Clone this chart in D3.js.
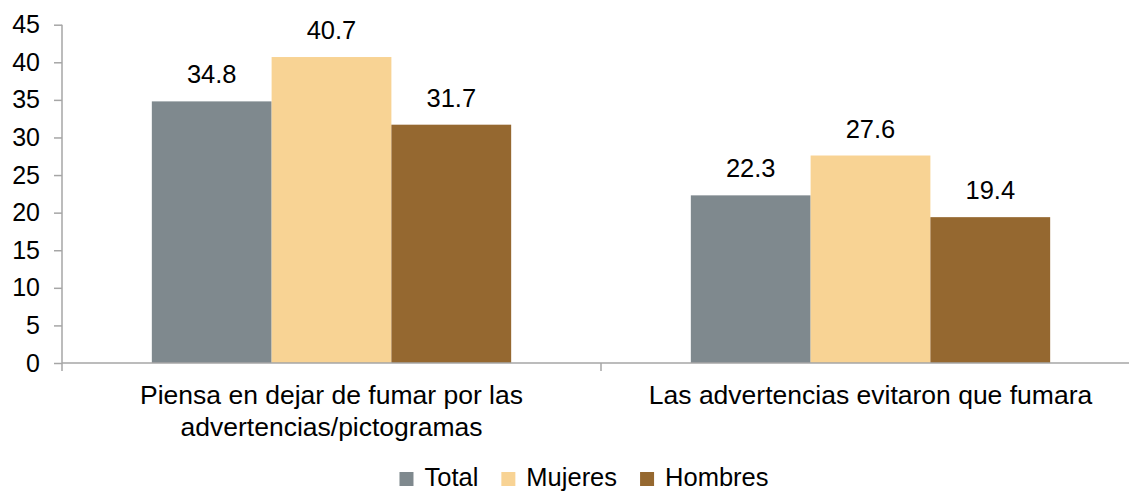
<!DOCTYPE html>
<html>
<head>
<meta charset="utf-8">
<script src="https://cdn.jsdelivr.net/npm/d3@7"></script>
<style>
  body { margin: 0; background: #fff; }
  text { font-family: "Liberation Sans", Arial, sans-serif; fill: #000; }
</style>
</head>
<body>
<svg id="chart" width="1129" height="493"></svg>
<script>
"use strict"

// data
const categories = [
    ["Piensa en dejar de fumar por las", "advertencias/pictogramas"],
    ["Las advertencias evitaron que fumara"]
];
const series = ["Total", "Mujeres", "Hombres"];
const totalValues = [34.8, 22.3];
const mujeresValues = [40.7, 27.6];
const hombresValues = [31.7, 19.4];
const yTicks = [0, 5, 10, 15, 20, 25, 30, 35, 40, 45];

const colors = { Total: "#7f898e", Mujeres: "#f8d394", Hombres: "#956830" };
const axisColor = "#a6a6a6";

const svg = d3.select("#chart");

const rows = categories.map((c, i) => ({
    key: i,
    label: c,
    values: [
        { s: "Total", v: totalValues[i] },
        { s: "Mujeres", v: mujeresValues[i] },
        { s: "Hombres", v: hombresValues[i] }
    ]
}));

const plotLeft = 62, plotRight = 1140, plotTop = 24.7, plotBottom = 363;

const x0 = d3.scaleBand().domain(rows.map(d => d.key)).range([plotLeft, plotRight]).padding(0);
const x1 = d3.scaleBand().domain(series).range([0, x0.bandwidth()]).paddingInner(0).paddingOuter(0.75);
const y = d3.scaleLinear().domain([0, 45]).range([plotBottom, plotTop]);

// y axis
const yAxis = svg.append("g")
    .attr("transform", `translate(${plotLeft},0)`)
    .call(d3.axisLeft(y).tickValues(yTicks).tickSize(8).tickPadding(14));
yAxis.select(".domain").remove();
yAxis.selectAll(".tick line").attr("stroke", axisColor).attr("stroke-width", 1.5);
yAxis.selectAll(".tick text").style("font-size", "25px").attr("fill", "#000");
svg.append("line")
    .attr("x1", plotLeft).attr("x2", plotLeft)
    .attr("y1", plotTop).attr("y2", plotBottom + 8)
    .attr("stroke", axisColor).attr("stroke-width", 1.5);

// bars
const groups = svg.selectAll(".grp")
    .data(rows)
    .enter().append("g")
    .attr("class", "grp")
    .attr("transform", d => `translate(${x0(d.key)},0)`);

groups.selectAll("rect")
    .data(d => d.values)
    .enter().append("rect")
    .attr("x", d => x1(d.s))
    .attr("width", x1.bandwidth())
    .attr("y", d => y(d.v))
    .attr("height", d => y(0) - y(d.v))
    .attr("fill", d => colors[d.s]);

groups.selectAll(".val")
    .data(d => d.values)
    .enter().append("text")
    .attr("class", "val")
    .attr("x", d => x1(d.s) + x1.bandwidth() / 2)
    .attr("y", d => y(d.v) - 18)
    .attr("text-anchor", "middle")
    .style("font-size", "25.5px")
    .text(d => d.v.toFixed(1));

// x axis
svg.append("line")
    .attr("x1", plotLeft).attr("x2", plotRight)
    .attr("y1", plotBottom).attr("y2", plotBottom)
    .attr("stroke", axisColor).attr("stroke-width", 1.5);
[plotLeft + x0.bandwidth(), plotRight].forEach(xx => {
    svg.append("line")
        .attr("x1", xx).attr("x2", xx)
        .attr("y1", plotBottom).attr("y2", plotBottom + 8)
        .attr("stroke", axisColor).attr("stroke-width", 1.5);
});

// category labels
groups.each(function(d) {
    const t = d3.select(this).append("text")
        .attr("text-anchor", "middle")
        .style("font-size", "26.5px");
    d.label.forEach((line, i) => {
        t.append("tspan")
            .attr("x", x0.bandwidth() / 2)
            .attr("y", 404 + i * 32)
            .text(line);
    });
});

// legend
const legend = svg.append("g");
let lx = 0;
series.forEach(s => {
    const item = legend.append("g").attr("transform", `translate(${lx},0)`);
    item.append("rect")
        .attr("x", 0).attr("y", 472)
        .attr("width", 14).attr("height", 14)
        .attr("fill", colors[s]);
    const t = item.append("text")
        .attr("x", 25).attr("y", 486)
        .style("font-size", "25.5px")
        .text(s);
    lx += 25 + t.node().getComputedTextLength() + 23;
});
const legendWidth = lx - 23;
legend.attr("transform", `translate(${584 - legendWidth / 2},0)`);
</script>
</body>
</html>
